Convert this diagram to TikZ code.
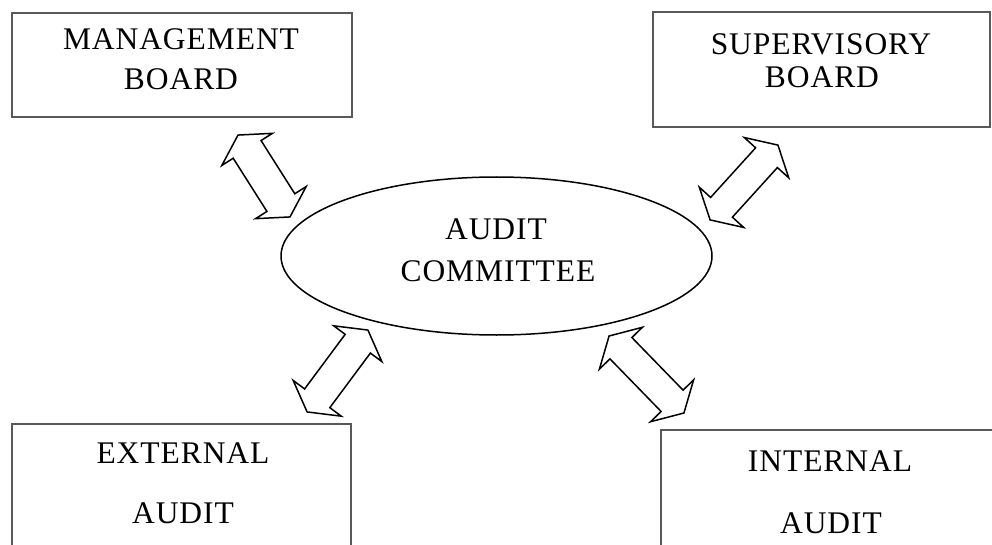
\documentclass[tikz,border=0pt]{standalone}
\usepackage{fontspec}
\setmainfont{Liberation Serif}[LetterSpace=3]
\usetikzlibrary{shapes.geometric}
\tikzset{
  boxnode/.style={draw=black!65, line width=2pt, rectangle, inner sep=0pt},
  lbl/.style={anchor=base, inner sep=0pt, font=\fontsize{31.5}{37}\selectfont},
  blockarr/.style={draw=black, line width=1.5pt, fill=white, line join=miter},
  ovalnode/.style={draw=black, ellipse, line width=1.5pt, inner sep=0pt},
}
\newcommand\blockarrow[5]{%
  \begin{scope}[shift={#2}, rotate=#3]
    \coordinate (#1) at (0,0);
    \draw[blockarr] (-#4,0) -- (-#4+17,30) -- (-#4+17,#5) -- (#4-17,#5) -- (#4-17,30)
      -- (#4,0) -- (#4-17,-30) -- (#4-17,-#5) -- (-#4+17,-#5) -- (-#4+17,-30) -- cycle;
  \end{scope}}
\begin{document}
\begin{tikzpicture}[x=1pt,y=-1pt]
\useasboundingbox (0,0) rectangle (992,545);
\clip (0,0) rectangle (992,545);
\fill[white] (0,0) rectangle (992,545);
% boxes
\node[boxnode, minimum width=340pt, minimum height=104pt] (mb) at (182,65) {};
\node[boxnode, minimum width=337pt, minimum height=115pt] (sb) at (821.5,69.5) {};
\node[boxnode, minimum width=339pt, minimum height=176pt] (ea) at (181.5,512) {};
\node[boxnode, minimum width=389pt, minimum height=170pt] (ia) at (855.5,515) {};
% ellipse
\node[ovalnode, minimum width=431pt, minimum height=158pt] (ac) at (496.5,256) {};
% labels
\node[lbl] (mb1) at (181,50) {MANAGEMENT};
\node[lbl] (mb2) at (181,90) {BOARD};
\node[lbl] (sb1) at (821,55) {SUPERVISORY};
\node[lbl] (sb2) at (822,88) {BOARD};
\node[lbl] (ac1) at (496,240) {AUDIT};
\node[lbl] (ac2) at (498,281) {COMMITTEE};
\node[lbl] (ea1) at (183,463) {EXTERNAL};
\node[lbl] (ea2) at (183,523) {AUDIT};
\node[lbl] (ia1) at (830,471) {INTERNAL};
\node[lbl] (ia2) at (831,533) {AUDIT};
% block double arrows
\blockarrow{a1}{(264,176)}{-57.6}{48.5}{16.5}
\blockarrow{a2}{(744,182.5)}{47.8}{50.5}{14.7}
\blockarrow{a3}{(337.5,371)}{53.4}{51}{15.7}
\blockarrow{a4}{(646.5,374.5)}{-45.8}{53.7}{15.3}
\end{tikzpicture}
\end{document}
